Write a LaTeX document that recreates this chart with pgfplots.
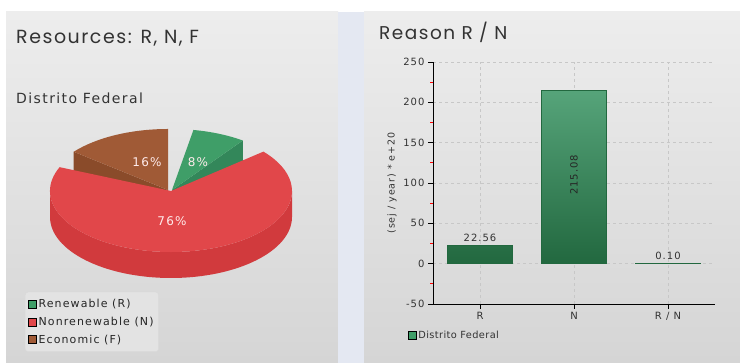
\documentclass[border=0pt]{standalone}
\usepackage{pgfplots}
\pgfplotsset{compat=1.18}
\usepackage{fontspec}
\setmainfont{DejaVu Sans}
\newfontfamily\lsfont[LetterSpace=10]{DejaVu Sans}
\newfontfamily\lgfont[LetterSpace=4]{DejaVu Sans}
\newfontfamily\titlefont[LetterSpace=8]{Poppins}
\definecolor{pgreen}{HTML}{3F9E68}
\definecolor{pgreenD}{HTML}{33875A}
\definecolor{pred}{HTML}{E1474A}
\definecolor{predD}{HTML}{D13A3D}
\definecolor{pbrown}{HTML}{A05A36}
\definecolor{pbrownD}{HTML}{8A4B2A}
\definecolor{bartop}{HTML}{56A47A}
\definecolor{barbot}{HTML}{22683F}
\definecolor{gapcol}{HTML}{E4E8F2}
\definecolor{panTop}{HTML}{EDEDED}
\definecolor{panBot}{HTML}{D5D5D5}
\definecolor{txt}{HTML}{333333}
\begin{document}
\begin{tikzpicture}[x=1pt,y=1pt]
% backgrounds
\fill[white] (0,0) rectangle (740,363);
\shade[top color=panTop, bottom color=panBot] (6,0) rectangle (338,351);
\fill[gapcol] (338,0) rectangle (364,351);
\shade[top color=panTop, bottom color=panBot] (364,0) rectangle (740,351);
% titles
\node[anchor=west, inner sep=0pt, text=txt, font=\titlefont\fontsize{19}{21}\selectfont] at (16,325) {Resources: R, N, F};
\node[anchor=west, inner sep=0pt, text=txt, font=\lsfont\fontsize{14}{16}\selectfont] at (16,265) {Distrito Federal};
\node[anchor=west, inner sep=0pt, text=txt, font=\titlefont\fontsize{18.5}{21}\selectfont] at (379,331) {Reason R / N};
% pie data (percent)
\def\pR{8}\def\pN{76}\def\pF{16}
\pgfmathsetmacro\gB{79.8}
\pgfmathsetmacro\gA{\gB-\pR*3.2}
\pgfmathsetmacro\bA{90}
\pgfmathsetmacro\bB{\bA+\pF*3.2}
\pgfmathsetmacro\rA{157}
\pgfmathsetmacro\rB{\rA+\pN*3.2}
\begin{axis}[x=1pt, y=1pt, xmin=0, xmax=338, ymin=0, ymax=363,
  hide axis, clip=false, at={(0pt,0pt)}, anchor=south west,
  legend style={at={(0.074,0.196)}, anchor=north west, draw=black!15, fill=black!11,
    rounded corners=3pt, font=\lsfont\fontsize{11}{13}\selectfont, text=black!85,
    row sep=4pt, inner xsep=3pt, inner ysep=5pt, cells={anchor=west}},
  legend image code/.code={\fill[#1, sharp corners] (0pt,-4pt) rectangle (8pt,4pt);},
  ]
  % green slice: radial side face then top
  \fill[pgreenD] (axis cs:172,173) -- (axis cs:{172+121*cos(\gA)},{173+61*sin(\gA)})
     -- (axis cs:{172+121*cos(\gA)},{147+61*sin(\gA)}) -- (axis cs:172,147) -- cycle;
  \fill[pgreen] (axis cs:172,173) -- (axis cs:{172+121*cos(\gA)},{173+61*sin(\gA)})
     arc[start angle=\gA, end angle=\gB, x radius=121, y radius=61] -- cycle;
  % brown slice
  \fill[pbrownD] (axis cs:168,173) -- (axis cs:{168+121*cos(\bB)},{173+61*sin(\bB)})
     -- (axis cs:{168+121*cos(\bB)},{147+61*sin(\bB)}) -- (axis cs:168,147) -- cycle;
  \fill[pbrown] (axis cs:168,173) -- (axis cs:{168+121*cos(\bA)},{173+61*sin(\bA)})
     arc[start angle=\bA, end angle=\bB, x radius=121, y radius=61] -- cycle;
  % red slice: front wall then top
  \fill[predD] (axis cs:50,172) arc[start angle=180, end angle=360, x radius=121, y radius=61]
     -- (axis cs:292,146) arc[start angle=360, end angle=180, x radius=121, y radius=61] -- cycle;
  \fill[pred] (axis cs:171,172) -- (axis cs:{171+121*cos(\rA)},{172+61*sin(\rA)})
     arc[start angle=\rA, end angle=\rB, x radius=121, y radius=61] -- cycle;
  % labels
  \node[text=white!92!red, font=\lsfont\fontsize{12}{14}\selectfont] at (axis cs:198,201) {\pR\%};
  \node[text=white!92!red, font=\lsfont\fontsize{12}{14}\selectfont] at (axis cs:147,201) {\pF\%};
  \node[text=white!92!red, font=\lsfont\fontsize{12}{14}\selectfont] at (axis cs:172,142) {\pN\%};
  \addlegendimage{fill=pgreen}\addlegendentry{Renewable (R)}
  \addlegendimage{fill=pred}\addlegendentry{Nonrenewable (N)}
  \addlegendimage{fill=pbrown}\addlegendentry{Economic (F)}
\end{axis}
% bar chart
\begin{axis}[at={(433pt,59pt)}, anchor=south west, scale only axis, width=282pt, height=242pt,
  xmin=-0.5, xmax=2.5, ymin=-50, ymax=250,
  xtick={0,1,2}, xticklabels={R,N,R / N},
  ytick={-50,0,...,250}, minor y tick num=1,
  /pgf/number format/assume math mode=true,
  axis lines=left, axis line style={-, black, line width=0.9pt},
  tick align=outside, major tick length=5pt, minor tick length=3pt,
  every tick/.style={black, line width=0.9pt},
  every minor tick/.style={red, line width=0.9pt},
  grid=major, major grid style={dashed, black!22, line width=0.6pt},
  tick label style={font=\lsfont\fontsize{10}{11}\selectfont, text=txt},
  ylabel={(sej / year) * e+20},
  ylabel style={font=\lsfont\fontsize{9.5}{10}\selectfont, text=txt},
  legend style={at={(-0.1,-0.095)}, anchor=north west, draw=none, fill=none,
    font=\lgfont\fontsize{9.8}{11}\selectfont, text=txt},
  legend image code/.code={\fill[#1] (0pt,-4pt) rectangle (8pt,4pt);},
  ]
  \addplot[ybar, bar width=65pt, bar shift=0pt, draw=barbot, line width=0.8pt,
    top color=bartop, bottom color=barbot, forget plot]
    coordinates {(0,22.56) (1,215.08) (2,0.10)};
  \addplot[ybar, bar width=65pt, bar shift=0pt, draw=none, fill=none, forget plot,
    nodes near coords={\pgfmathprintnumber[fixed, fixed zerofill, precision=2]{\pgfplotspointmeta}},
    nodes near coords style={font=\lsfont\fontsize{10}{11}\selectfont, text=txt}]
    coordinates {(0,22.56) (2,0.10)};
  \addplot[draw=none, mark=none, forget plot, point meta=explicit symbolic, nodes near coords,
    nodes near coords style={rotate=90, anchor=center, font=\lsfont\fontsize{10}{11}\selectfont, text=black!85}]
    coordinates {(1,110) [215.08]};
  \addlegendimage{fill=pgreen}\addlegendentry{Distrito Federal}
\end{axis}
\pgfresetboundingbox
\useasboundingbox (0,0) rectangle (740,363);
\end{tikzpicture}
\end{document}
